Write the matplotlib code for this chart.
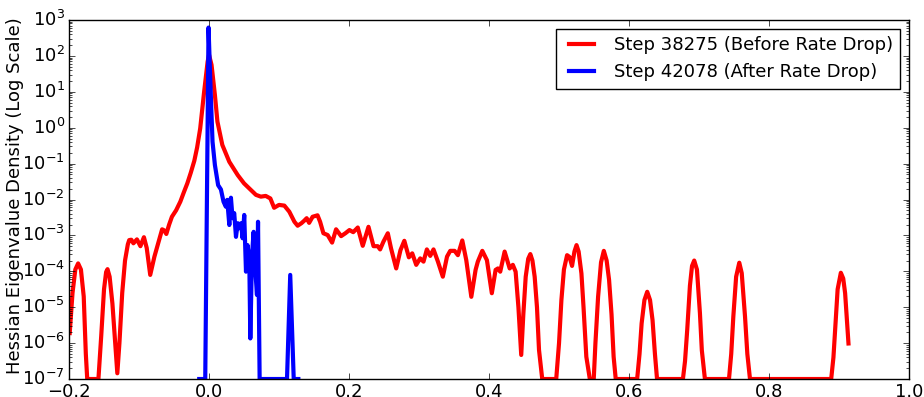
import numpy as np
import matplotlib
matplotlib.use("Agg")
import matplotlib.pyplot as plt

plt.style.use("classic")
plt.rcParams["font.size"] = 13

# eigenvalue positions and log10 of density
red_x = [-0.199, -0.195, -0.191, -0.187, -0.183, -0.179, -0.176, -0.174, -0.158, -0.154,
         -0.150, -0.147, -0.145, -0.142, -0.138, -0.134, -0.131, -0.128, -0.124, -0.120,
         -0.116, -0.114, -0.111, -0.108, -0.103, -0.098, -0.093, -0.089, -0.084, -0.081,
         -0.078, -0.074, -0.067, -0.064, -0.061, -0.057, -0.053, -0.047, -0.041, -0.036,
         -0.031, -0.026, -0.021, -0.017, -0.0126, -0.007, -0.002, 0.0, 0.0036, 0.0084,
         0.012, 0.019, 0.029, 0.041, 0.050, 0.0575, 0.067, 0.074, 0.081, 0.0876,
         0.093, 0.100, 0.1076, 0.1147, 0.122, 0.1266, 0.132, 0.136, 0.1395, 0.143,
         0.148, 0.155, 0.1587, 0.1634, 0.1695, 0.1758, 0.1815, 0.1887, 0.1948, 0.2006,
         0.206, 0.2125, 0.2196, 0.2278, 0.235, 0.241, 0.2444, 0.249, 0.2554, 0.260,
         0.2674, 0.2735, 0.279, 0.2855, 0.2903, 0.296, 0.3017, 0.3064, 0.3112, 0.316,
         0.3207, 0.327, 0.334, 0.340, 0.3446, 0.3508, 0.3555, 0.3618, 0.3675, 0.3747,
         0.3808, 0.384, 0.3904, 0.397, 0.404, 0.4094, 0.4127, 0.416, 0.4223, 0.4295,
         0.434, 0.438, 0.442, 0.446, 0.449, 0.4524, 0.456, 0.459, 0.462, 0.4652,
         0.4685, 0.4714, 0.476, 0.496, 0.500, 0.5034, 0.507, 0.5115, 0.515, 0.5186,
         0.522, 0.525, 0.528, 0.532, 0.535, 0.539, 0.544, 0.5496, 0.552, 0.5558,
         0.560, 0.564, 0.568, 0.5715, 0.575, 0.578, 0.581, 0.6116, 0.615, 0.618,
         0.622, 0.626, 0.630, 0.6336, 0.637, 0.640, 0.677, 0.680, 0.6831, 0.687,
         0.690, 0.6931, 0.697, 0.7013, 0.704, 0.7084, 0.7428, 0.746, 0.749, 0.753,
         0.7575, 0.761, 0.7657, 0.769, 0.7728, 0.8888, 0.892, 0.8944, 0.898, 0.9026,
         0.906, 0.9087, 0.911, 0.9135]
red_log = [-5.72, -4.60, -3.95, -3.78, -3.95, -4.70, -6.30, -7.0, -7.0, -5.8,
           -4.5, -4.02, -3.94, -4.15, -4.90, -6.00, -6.84, -6.0, -4.6, -3.70,
           -3.25, -3.13, -3.12, -3.22, -3.11, -3.30, -3.05, -3.35, -4.10, -3.85,
           -3.59, -3.31, -2.83, -2.86, -2.96, -2.70, -2.48, -2.30, -2.06, -1.80,
           -1.55, -1.25, -0.92, -0.55, -0.02, 1.0, 1.84, 2.03, 1.75, 0.91,
           0.17, -0.48, -0.95, -1.32, -1.55, -1.69, -1.87, -1.92, -1.90, -1.97,
           -2.23, -2.15, -2.17, -2.34, -2.62, -2.73, -2.66, -2.59, -2.52, -2.65,
           -2.48, -2.44, -2.62, -2.94, -2.99, -3.20, -2.83, -3.02, -2.94, -2.85,
           -2.91, -2.78, -3.29, -2.76, -3.30, -3.30, -3.39, -3.18, -2.94, -3.36,
           -3.92, -3.41, -3.15, -3.61, -3.50, -3.82, -3.64, -3.73, -3.39, -3.57,
           -3.39, -3.73, -4.15, -3.59, -3.43, -3.43, -3.55, -3.14, -3.69, -4.71,
           -3.96, -3.73, -3.43, -3.69, -4.61, -3.96, -3.92, -4.01, -3.45, -3.92,
           -3.82, -4.01, -5.0, -6.33, -5.2, -4.15, -3.65, -3.52, -3.70, -4.15,
           -5.0, -6.19, -7.0, -7.0, -6.0, -4.80, -3.95, -3.55, -3.60, -3.85,
           -3.45, -3.27, -3.45, -4.06, -5.0, -6.38, -7.0, -7.0, -6.0, -4.71,
           -3.75, -3.43, -3.70, -4.24, -5.2, -6.38, -7.0, -7.0, -6.3, -5.45,
           -4.80, -4.57, -4.80, -5.36, -6.3, -7.0, -7.0, -6.5, -5.64, -4.40,
           -3.85, -3.70, -3.95, -5.17, -6.2, -7.0, -7.0, -6.3, -5.26, -4.15,
           -3.76, -4.05, -5.26, -6.3, -7.0, -7.0, -6.4, -5.64, -4.5, -4.04,
           -4.20, -4.61, -5.3, -6.01]

blue_x = [-0.014, -0.0054, -0.003, -0.0007, 0.0015, 0.0027, 0.005, 0.0084, 0.013, 0.017,
          0.0207, 0.024, 0.026, 0.029, 0.0313, 0.0336, 0.036, 0.0385, 0.041, 0.043,
          0.0457, 0.048, 0.0503, 0.0528, 0.055, 0.0575, 0.059, 0.0614, 0.0637, 0.066,
          0.0685, 0.070, 0.0723, 0.1114, 0.116, 0.121, 0.1276]
blue_log = [-7.0, -7.0, -2.0, 2.79, 1.5, 0.82, -0.39, -1.04, -1.60, -1.72,
            -2.06, -2.20, -2.01, -2.71, -1.95, -2.52, -2.38, -3.04, -2.66, -2.80,
            -2.66, -3.08, -2.43, -4.01, -3.27, -3.64, -5.87, -3.55, -2.90, -3.92,
            -4.66, -2.62, -7.0, -7.0, -4.10, -7.0, -7.0]

red_density = 10.0 ** np.array(red_log)
blue_density = 10.0 ** np.array(blue_log)

fig = plt.figure(figsize=(9.24, 3.97), dpi=100, facecolor="w")
ax = fig.add_axes([0.0747, 0.0453, 0.9091, 0.9043])
ax.plot(red_x, red_density, color="r", linewidth=3, label="Step 38275 (Before Rate Drop)")
ax.plot(blue_x, blue_density, color="b", linewidth=3, label="Step 42078 (After Rate Drop)")
ax.set_yscale("log")
ax.set_xlim(-0.2, 1.0)
ax.set_ylim(1e-7, 1e3)
ax.tick_params(axis="both", which="major", pad=3)
ax.set_ylabel("Hessian Eigenvalue Density (Log Scale)")
ax.yaxis.set_label_coords(-0.054, 0.51)
ax.legend(loc="upper right", fontsize=13)

fig.savefig("out.png", dpi=100, facecolor="w")
